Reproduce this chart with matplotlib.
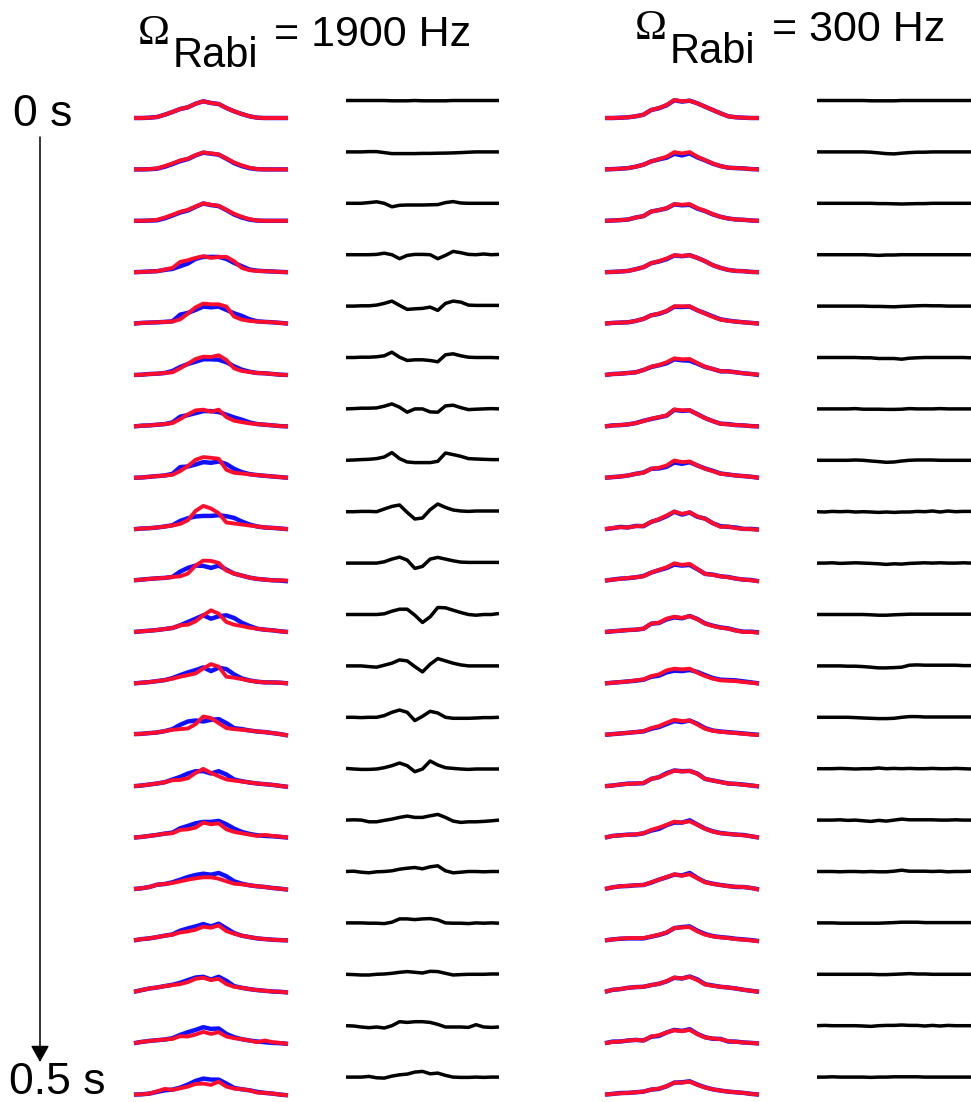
import numpy as np
import matplotlib.pyplot as plt

# camera pixel index along each profile
pixel = np.arange(21)

# 1900 Hz: measured (blue) and simulated (red) profiles, one row per time step
blue_1900 = [
    [0, 0, 0.3, 1, 3.3, 6, 9, 10.7, 14.3, 16.7, 15, 14, 10, 6.7, 4, 1.7, 0.3, 0, 0, 0, 0],
    [0, 0, 0.2, 0.7, 2.7, 5.3, 8.3, 10.3, 14, 16.7, 15.7, 14.7, 10.7, 6.3, 3.3, 1.2, 0.2, 0, 0, 0, 0],
    [0, 0, 0.2, 0.5, 2.5, 5.3, 8.3, 10.3, 14, 17.3, 15.7, 14.7, 10.7, 6.3, 3.3, 1.2, 0.2, 0, 0, 0, 0],
    [0, 0.3, 0.7, 1, 2.3, 3.3, 6, 8.7, 13.3, 15.3, 15.3, 15.3, 13.3, 9.3, 6, 2.7, 1.5, 1, 0.7, 0.3, 0],
    [0, 0.7, 1, 1.3, 1.7, 2.3, 9, 10.7, 13.7, 17, 16.3, 17, 13.7, 10.3, 7.7, 4.3, 2.3, 1.7, 1.3, 0.7, 0],
    [0, 0.3, 1, 1.3, 2, 4, 8, 11, 13.3, 15.7, 15.7, 15.3, 12.7, 8.7, 5.3, 3.3, 2, 1.7, 1, 0.3, 0],
    [0, 0.7, 1, 1.7, 2.3, 4, 9.7, 11.3, 13.3, 15.3, 15.3, 14.3, 11.7, 9, 6.7, 4, 2.3, 1.7, 1, 0.3, 0],
    [0, 0.3, 1, 1.7, 2.3, 4, 10.7, 11.3, 13.3, 15.7, 15, 16.3, 13.7, 9, 5.7, 3.7, 2.7, 2, 1.3, 0.7, 0],
    [0, 0.7, 1, 1.7, 2.7, 4, 8.3, 11, 12.7, 13.3, 13.3, 14, 13, 11.3, 7.7, 4.7, 2.7, 1.7, 1.3, 0.7, 0],
    [0.3, 1, 1.7, 2.3, 2.7, 3.7, 9, 12.7, 15, 14.7, 12.7, 15, 11, 7, 5, 3, 1.7, 1, 0.3, 0, -0.7],
    [0, 0.7, 1.3, 2, 3, 4, 6.7, 10, 13.3, 16.7, 13.3, 15.7, 16.7, 14, 9.3, 6, 3.3, 2.3, 1.7, 0.7, 0],
    [0, 0.7, 1.3, 2.3, 3.3, 5.3, 8.3, 11, 13.3, 16, 12.3, 15.7, 14.3, 9, 5, 3, 1.7, 1, 1, 0.7, 0],
    [0.7, 1, 1.7, 2.3, 3.7, 5.7, 10, 13.3, 14.3, 13.3, 15, 15.7, 11.7, 6.7, 5.7, 4.3, 3.3, 2.7, 1.7, 0.7, -0.7],
    [0, 0.7, 1.7, 2.7, 4, 6.7, 9.3, 12.7, 15, 15, 12.7, 15, 11.7, 6.7, 5, 3.7, 2.7, 2, 1.3, 0.3, -0.7],
    [0, 0.7, 1.7, 2.7, 4, 5, 9.3, 11.7, 14.3, 15.7, 15.7, 16.7, 13.3, 9, 5.7, 3.7, 2.3, 1.7, 1.3, 0.7, 0],
    [0, 0.7, 2, 4.3, 5, 6.7, 9.3, 12, 14, 15.3, 14.3, 16, 12.7, 7.7, 5.3, 3.7, 2.7, 2, 1, 0.3, -0.7],
    [0, 1.3, 2, 3.3, 4.7, 6, 9.7, 12, 14, 16.3, 14, 16.7, 12, 7.3, 4.7, 3.3, 2, 1.3, 0.7, 0.3, 0],
    [0, 1.7, 3.3, 4.3, 5.7, 7, 9, 11.7, 14.3, 15, 12.3, 15, 11, 5.7, 4, 2.7, 1.7, 1, 0.3, 0, -0.7],
    [0, 1.3, 2.3, 3, 3.7, 5, 8.3, 11, 13.3, 16, 14.3, 14.7, 9.3, 6, 4, 2.7, 1.7, 1, 0.3, 0, -0.7],
    [0, 0.3, 1, 2.7, 4.3, 5, 7, 10, 13.7, 16, 15, 15, 11, 6.7, 5.3, 4.3, 2.7, 1.7, 1, 0, -0.7],
]
red_1900 = [
    [0, 0, 0.3, 1, 3.3, 6, 9, 10.7, 14.3, 16.7, 15, 14, 10, 6.7, 4, 1.7, 0.3, 0, 0, 0, 0],
    [0, 0, 0.3, 1, 3.3, 6, 9, 10.7, 14.3, 17, 16, 15, 11, 7, 4, 1.7, 0.3, 0, 0, 0, 0],
    [0, 0, 0.3, 1, 3.3, 6, 9, 11, 14.3, 17.5, 16, 15, 11, 7, 4, 1.7, 0.3, 0, 0, 0, 0],
    [0, 0.3, 0.7, 1, 2.7, 4.3, 10.3, 12, 14.3, 16, 14.3, 15.3, 15.3, 11, 4.3, 2, 1.3, 1, 0.7, 0.3, 0],
    [0, 0.7, 1, 1.3, 1.7, 2, 4.3, 10, 16.3, 20, 19.3, 19.3, 17, 7, 4, 2.7, 2, 1.7, 1.3, 0.7, 0],
    [0, 0.3, 1, 1.3, 2, 2.7, 6.7, 11.3, 16, 18.3, 18, 19.7, 15, 6.7, 4, 3, 2, 1.7, 1, 0.3, 0],
    [0, 0.7, 1, 1.7, 2.3, 3.3, 7.3, 12, 16, 16.7, 14.7, 16.7, 9.3, 5.7, 4.3, 3, 2.3, 1.7, 1, 0.3, 0],
    [0, 0.3, 1, 1.7, 2.3, 3, 6.7, 11.7, 18, 20.7, 20, 19, 8, 5, 4.3, 3.3, 2.7, 2, 1.3, 0.7, 0],
    [0, 0.7, 1, 1.7, 2.7, 3.7, 5.3, 9, 18.3, 23.3, 20.7, 16, 6.7, 5.7, 4.7, 3.7, 2.7, 1.7, 1.3, 0.7, 0],
    [0.3, 1, 1.7, 2.3, 2.7, 3.7, 4.3, 7, 15, 20, 19.7, 17.7, 10, 7, 5, 3, 1.7, 1, 0.3, 0.3, 0],
    [0, 0.7, 1.3, 2, 3, 4, 6.7, 7.3, 10.7, 16.7, 21.7, 18.3, 10, 7.3, 6, 4.3, 3.3, 2.3, 1.7, 0.7, 0],
    [0, 0.7, 1.3, 2.3, 3.3, 4.7, 6.7, 8.3, 10, 15, 19.3, 16.7, 6.7, 5.7, 4.3, 2.7, 1.7, 1, 1, 0.7, 0],
    [0.7, 1, 1.7, 2.3, 3.7, 5, 5.7, 6.3, 10.7, 18.3, 16.7, 11.7, 6.7, 5.7, 5, 4.3, 3.3, 2.7, 1.7, 0.7, -0.7],
    [0, 0.7, 1.7, 2.7, 4, 6, 6.3, 8, 13.3, 17.3, 13.3, 10, 6.7, 5.7, 4.7, 3.7, 2.7, 2, 1.3, 0.3, -0.7],
    [0, 0.7, 1.7, 2.7, 4, 4.3, 7.7, 8.3, 10, 15, 13.3, 14.3, 8.3, 5.7, 4.3, 3, 1.7, 2.7, 1.7, 1, 0],
    [0, 0.7, 2, 4.3, 5, 6, 7.7, 9.3, 10.7, 11.7, 11.7, 10.3, 7.7, 5.3, 4.7, 3.7, 2.7, 2, 1, 0.3, -0.7],
    [0, 1.3, 2, 3.3, 4.7, 5.7, 8, 9, 10.7, 13.7, 12.7, 15, 9.3, 6.7, 4.7, 3.3, 2, 1.3, 0.7, 0.3, 0],
    [0, 1.7, 3.3, 4.3, 5.7, 6.7, 7.7, 9.7, 13, 14, 11.7, 13, 7.7, 5, 4, 2.7, 1.7, 1, 0.3, 0, -0.7],
    [0, 1.3, 2.3, 3, 3.7, 4.3, 7, 6.7, 8.7, 11.3, 9.3, 11, 6.7, 5, 4, 2.7, 1, 2.7, 1, 0.3, -0.7],
    [0, 0.3, 1, 3.3, 5.7, 4.7, 6.3, 8, 10.7, 11, 9.7, 13, 8, 6, 5.3, 4.3, 2, 1.7, 1, 0, -0.7],
]
# 1900 Hz: difference (blue - red)
diff_1900 = [
    [0, 0, 0, 0, 0, 0, -0.3, -0.3, -0.3, 0, -0.3, -0.3, -0.3, -0.3, 0, 0, 0, 0, 0, 0, 0],
    [0, 0, 0, 0.3, 0.3, -0.7, -1.7, -1.7, -1.7, -1.7, -1.5, -1.5, -1.3, -1.2, -1, -0.7, -0.3, 0, 0, 0, 0],
    [0, 0, 0, 0.7, 1.5, 0, -3.5, -2, -1.7, -1.7, -1.7, -1.5, -1.3, 0.7, 1.7, 0.3, 0, 0, 0, 0, 0],
    [0, 0, 0, 0, 0.3, 1.5, 0, -4, -0.7, 0.3, 0.3, 0, -4, -0.7, 3.3, 2, 0.3, 0, 0.7, 0, 0.3],
    [0, 0, 0.3, 0.3, 1, 2.7, 5, 0.7, -3.3, -2.7, -2.3, -1, -4.3, 2.7, 5, 4, 1, 0.7, 0.7, 0.7, 0.7],
    [0, 0, 0.3, 0.3, 0.7, 1.7, 5.3, 0.3, -3, -2.3, -2.3, -3, -4.3, 2.7, 3.7, 1.7, 0.3, 0, 0, 0, -0.3],
    [0, 0.3, 0.7, 0.7, 1, 2.7, 5, 1.7, -3.3, 0, 0, -3, -3.3, 3, 3.7, 1.3, -0.7, -0.3, 0, 0.3, 0],
    [0, 0.3, 0.7, 1, 1.7, 3.3, 7.7, 1.7, -1.7, -2.3, -2.3, -2.3, -1, 7.3, 5.7, 4, 1.7, 1.3, 1, 0.7, 0.7],
    [0, 0, 0.3, 0.3, 0, 2.7, 5.3, 6.7, -0.7, -7.3, -6.3, 2, 7.7, 4.3, 1.7, 0.7, 0.3, 0.7, 0.7, 0.7, 0.7],
    [0, 0, 0, 0, 0, 1.3, 4, 6, 3, -5.3, -3.3, 4, 5.7, 4, 2.3, 1, 0.7, 0.7, 0.7, 0.7, 0.7],
    [0, 0, 0, 0, 0, 0.7, 3.3, 5.3, 5.3, -0.7, -8, -2.3, 7, 6.7, 4.3, 2, 0, -0.7, 0, 0, 1],
    [0, 0, 0, -0.7, -1.3, 0.7, 2.7, 6, 5, -0.7, -6, 1.7, 7.3, 5, 2.7, 1, 0, 0, 0, 0, 0],
    [0, 0, -0.3, 0, 0, 1.7, 5, 7.3, 5, -3.3, 1, 6, 4.3, 0, -1, -1, -1, -0.7, -0.3, -0.3, 0],
    [0.3, -0.3, -0.7, -0.7, -0.3, 1, 3, 5.7, 3, -3, -0.3, 7.7, 3.7, 1, 0.3, -0.3, -0.7, -0.3, -0.3, -0.3, -0.3],
    [0, 0.3, 0, -1.7, -1.7, -0.3, 1, 2.7, 4, 2.7, 2.7, 4.3, 5.7, 2.7, -1, -2.3, -1.7, -1.7, -1.3, -0.7, 0],
    [0, 0.3, -0.7, -1.3, -0.3, 0, 0.7, 2.3, 3.3, 4, 2.7, 4.7, 5.7, 0.7, -1.3, -0.7, 0, 0, -0.3, 0, 0],
    [0, 0, 0, -0.3, -0.3, -0.7, 0.7, 4, 4, 3.3, 4, 4.3, 3, 0, -0.3, -0.3, -0.7, 0, -0.3, 0, -0.3],
    [0, -0.3, -0.7, -0.7, 0, 0.3, 1, 2, 2.7, 2, 1.3, 3, 2.7, 1, -0.7, -0.3, 0, 0, 0, 0.3, 0.3],
    [0, -0.3, -1.3, -2, -1.3, -2.3, 0, 4, 3.3, 4, 4, 3.3, 1.3, -1.3, -1.3, -1.3, -1.7, 1, -1.3, -1.7, -1.3],
    [0, 0, 0, 0.7, -0.7, -1, 1, 2.3, 3, 5, 5.7, 3.3, 4, 1.7, 0, -0.3, -0.3, 0, -0.3, 0, 0],
]

# 300 Hz: simulated (red) profile and difference (blue - red)
red_300 = [
    [0, 0, 0.3, 0.7, 1.7, 3.3, 8, 10, 13, 18, 16.7, 17.3, 14.7, 11.3, 8, 4.7, 1.7, 0.7, 0.3, 0, 0],
    [0, 0.3, 0.7, 1.3, 2.7, 4.7, 8, 10.3, 12.7, 17.3, 16, 17.3, 12.7, 9.3, 6, 3.3, 1.7, 1.3, 1, 0.3, 0],
    [0, 0.3, 0.7, 1.3, 3.3, 4.7, 9.3, 10.7, 12.7, 16.7, 16, 16.7, 12.7, 10, 6.7, 4, 2.3, 1.3, 1, 0.3, 0],
    [0, 0.3, 0.7, 1.3, 3, 5, 9, 11, 13.7, 17, 16.3, 17, 14.3, 11, 7, 4.3, 2.3, 1.3, 1, 0.3, 0],
    [0, 0.7, 1, 1.3, 2.7, 4.7, 8.3, 10, 12.7, 17.3, 17.3, 17.3, 13.3, 10, 6.7, 4, 2.7, 2, 1.3, 0.7, 0],
    [0, 1, 1.3, 2, 2.7, 5, 8.3, 10, 12.7, 16.7, 15.7, 16, 12, 8.3, 6, 3.7, 3.7, 2.7, 1.7, 1, 0.3],
    [0, 1, 1.3, 2, 3.3, 5.3, 7.7, 9.3, 11, 17, 16, 16.3, 12, 8.3, 5.3, 2.7, 2, 1.3, 1, 0.3, 0],
    [0, 0.7, 1.3, 2.3, 4, 5, 9, 10, 12.3, 17.3, 15.7, 16.3, 12.3, 9, 6.7, 4, 3.3, 2.3, 1.7, 1, 0],
    [0, 1.3, 2, 1.7, 3, 3.3, 7.3, 10, 13.7, 17.7, 15.3, 17, 12.7, 10.3, 6, 2.3, 2.7, 1, 0.3, 0, -0.7],
    [0, 1, 1.7, 2.7, 3.3, 4.3, 8, 10.7, 13.3, 17.3, 15.7, 16.7, 11.7, 6.7, 5.7, 4.3, 3.3, 2, 1, 0.3, -0.7],
    [0, 0.7, 1.3, 2, 2.3, 3.3, 8.3, 9.3, 13.3, 15.3, 14, 16, 12.7, 8.3, 6, 4.3, 3.3, 1.3, 0, 0, -0.7],
    [0, 0.7, 1.3, 2, 3, 4, 7.3, 9, 13, 14.7, 14, 14.7, 10.7, 7.3, 4.7, 3, 2.7, 2.3, 1.3, 0.7, -0.3],
    [0, 0.7, 1.3, 2, 2.7, 3.7, 6.7, 8.7, 12, 15, 13.7, 14.3, 10.3, 6, 4, 3, 2.3, 1.7, 1, 0.3, -0.3],
    [0, 0.7, 1.7, 2.3, 2.7, 3.3, 7.3, 9, 12.3, 15.7, 14.7, 15.3, 12.3, 7.3, 5.7, 4, 2.7, 2.3, 1.3, 0.7, 0],
    [0, 1.7, 2.3, 2.7, 3.3, 4.3, 7.7, 10, 12.7, 16, 15, 16.3, 12.7, 8.7, 6, 4.3, 3.7, 3, 2.3, 1.3, 0],
    [0, 1.7, 2.7, 3.3, 3.7, 4, 6.7, 9.3, 12, 14.7, 13.3, 14.7, 10.7, 6.7, 5, 4, 2.7, 2.3, 2, 1, -0.7],
    [0, 1, 1.7, 2.3, 2.3, 2.3, 4, 5.7, 8, 12.3, 13, 13.3, 9, 5.7, 4, 3, 2.3, 1.3, 0.7, 0, -1],
    [0, 2, 2.7, 4, 4.7, 5, 6.7, 8, 10.7, 14.3, 13.3, 15, 11.7, 7.3, 6, 5, 4.3, 3.3, 2, 1, 0],
    [0, 1.3, 1.7, 2.7, 3.3, 2.7, 6.7, 8, 10.7, 13, 12, 13.3, 9, 5.7, 4.7, 4, 2, 1.3, 0.7, 0.3, -0.3],
    [0, 0.7, 1.3, 1.7, 2.3, 3, 5, 6, 8.3, 12, 12, 13, 9.7, 7, 5.3, 4, 3, 2.3, 1.7, 0.7, 0],
]
diff_300 = [
    [0, 0, 0, 0, 0, 0, 0, -0.3, -0.3, -0.3, -0.3, 0, 0, 0, 0, 0, 0, 0, 0, 0, 0],
    [0, 0, 0, 0, 0, 0, 0, -0.3, -1, -1.7, -2, -1.3, -0.7, -0.3, -0.3, 0, 0, 0, 0, 0, 0],
    [0, 0, 0, 0, 0, 0, 0, 0, -0.3, -0.3, -0.5, -0.7, -0.5, -0.3, -0.3, 0, 0, 0, 0, 0, 0],
    [0, 0, 0, 0, 0, 0, 0, -0.3, -0.7, -0.3, -0.3, 0, 0, 0, 0, 0, 0, 0, 0, 0, 0],
    [0, 0, 0, 0, 0, 0, 0, -0.3, -0.3, -0.5, -0.7, -0.3, 0, 0.3, 0.5, 0.3, 0.3, 0, 0, 0, 0],
    [0, 0, 0, 0, 0, 0, -0.3, -0.3, -1, -1, -1, -1.7, -0.7, -0.3, 0, 0, 0, 0, 0, 0, -0.3],
    [0, 0, 0, 0, 0, 0.3, -0.3, -0.3, -0.3, -0.5, -0.5, -0.3, 0.3, 0, 0, 0, 0.3, 0, 0, 0, 0],
    [0, 0, 0, 0, 0, 0.3, 0, -0.7, -1.3, -2, -1.7, -0.7, 0, 0.3, 0.3, 0.3, 0, 0, 0, 0, 0],
    [0, -0.3, 0.3, 0, 0.3, -0.3, 0, -0.3, -0.7, -0.3, -0.7, -0.3, -0.3, 0.3, 0, 0.7, -0.3, 0.7, 0, 0.3, 0.3],
    [0, 0, 0.3, -0.3, 0, 0.3, 0, -0.3, -0.7, -1.3, -0.7, -1, -0.3, 0, 0.3, 0, 0.3, 0, 0, 0.3, 0],
    [0, 0, 0, 0, 0, 0, 0, -0.3, -0.7, -0.7, -0.3, 0, 0.3, 0.3, 0.3, 0.3, 0.3, 0.3, 0.3, 0.3, 0.3],
    [0, 0, 0, 0, -0.3, -0.3, -0.7, -1.3, -2, -2, -1.7, -1.3, 0.7, 1, 0.7, 0.7, 0.7, 0.7, 0.7, 0.3, 0.3],
    [0, 0, 0, 0, 0, -0.3, -0.7, -1, -1.3, -1.3, -1, 0, 0.7, 0.7, 0.3, 0.3, 0.3, 0.3, 0.3, 0.3, 0.3],
    [0, 0, 0, 0.3, 0, -0.3, 0, 0, 0.7, 0, 0.3, 0, 0.3, 0, 0, 0.3, 0, 0, 0.3, 0, -0.3],
    [0, 0, 0, 0.3, -0.3, 0, -0.7, -1.3, -0.3, -1, 0, 1, 0.3, 0.3, 0.3, 0.3, 0, 0, 0.3, 0, 0],
    [0, 0, 0, -0.3, 0, 0, -0.3, 0, -0.3, -0.3, 0.3, 1.3, 0.3, 0.3, 0.3, 0, 0.3, -0.3, 0, 0, 0.3],
    [0, 0, 0, -0.3, -0.3, -0.3, -0.3, -0.3, -0.3, 0, 0.3, 0.7, 0.7, 0.7, 0.3, 0.3, 0.3, 0.3, 0.3, 0.3, 0.3],
    [0, 0, 0, 0, 0, 0, 0, 0, -0.3, -0.3, 0, 0.3, 0.7, 0.3, 0.3, 0, 0, 0, 0, 0, 0],
    [0, 0.3, 0, 0, 0, 0, -0.3, -0.7, 0, 0.3, 0.3, 0.7, 0.3, 0.3, -0.3, 0.3, -0.3, 0.3, 0, 0, 0],
    [0, 0, 0.3, 0, 0, 0, 0, -0.3, 0, 0, 0.3, 0.3, 0.3, 0.3, 0, 0, 0, 0, 0, 0, 0],
]
blue_300 = np.array(red_300) + np.array(diff_300)

titles = ["1900 Hz", "300 Hz"]
time_labels = ["0 s", "0.5 s"]

W, H = 971, 1102
BLUE = "#1010ff"
RED = "#ff0d2d"
plt.rcParams["font.family"] = ["Liberation Sans", "DejaVu Sans"]

fig = plt.figure(figsize=(W / 100, H / 100), dpi=100)

# pixel-space overlay for the labels and time arrow
over = fig.add_axes([0, 0, 1, 1])
over.set_xlim(0, W)
over.set_ylim(H, 0)
over.axis("off")

first_row = 118
row_step = 51.4
diff_lift = 17.5


def column_axes(left, width):
    ax = fig.add_axes([left / W, 0, width / W, 1])
    ax.set_xlim(0, 20)
    ax.set_ylim(-H, 0)
    ax.axis("off")
    return ax


ax_p1 = column_axes(134, 154)
ax_d1 = column_axes(346, 153)
ax_p2 = column_axes(605, 154)
ax_d2 = column_axes(817, 154)

line_kw = dict(clip_on=False, solid_joinstyle="round", solid_capstyle="butt")
for k in range(20):
    base = -(first_row + k * row_step)
    ax_p1.plot(pixel, base + np.array(blue_1900[k]), color=BLUE, lw=3.2, **line_kw)
    ax_p1.plot(pixel, base + np.array(red_1900[k]), color=RED, lw=2.8, **line_kw)
    ax_d1.plot(pixel, base + diff_lift + np.array(diff_1900[k]), color="k", lw=2.5, **line_kw)
    ax_p2.plot(pixel, base + blue_300[k], color=BLUE, lw=3.2, **line_kw)
    ax_p2.plot(pixel, base + np.array(red_300[k]), color=RED, lw=2.8, **line_kw)
    ax_d2.plot(pixel, base + diff_lift + np.array(diff_300[k]), color="k", lw=2.5, **line_kw)

# titles: Omega with a full-size lowered "Rabi"
for (xo, yo), (xr, yr), (xt, yt), freq in zip(
        [(138, 44), (635, 39)], [(173, 67), (670, 63)], [(274, 46), (772, 41)], titles):
    over.text(xo, yo, "\u03a9", family=["Liberation Serif", "DejaVu Serif"],
              fontsize=31, ha="left", va="baseline")
    over.text(xr, yr, "Rabi", fontsize=30, ha="left", va="baseline")
    over.text(xt, yt, "= " + freq, fontsize=31, ha="left", va="baseline")

over.text(13, 126, time_labels[0], fontsize=32, ha="left", va="baseline")
over.text(9, 1094, time_labels[1], fontsize=32, ha="left", va="baseline")
over.annotate("", xy=(40, 1062), xytext=(40, 137),
              arrowprops=dict(arrowstyle="-|>,head_length=0.5,head_width=0.28",
                              color="k", lw=1.1, shrinkA=0, shrinkB=0,
                              mutation_scale=20))

fig.savefig("out.png", dpi=100)
